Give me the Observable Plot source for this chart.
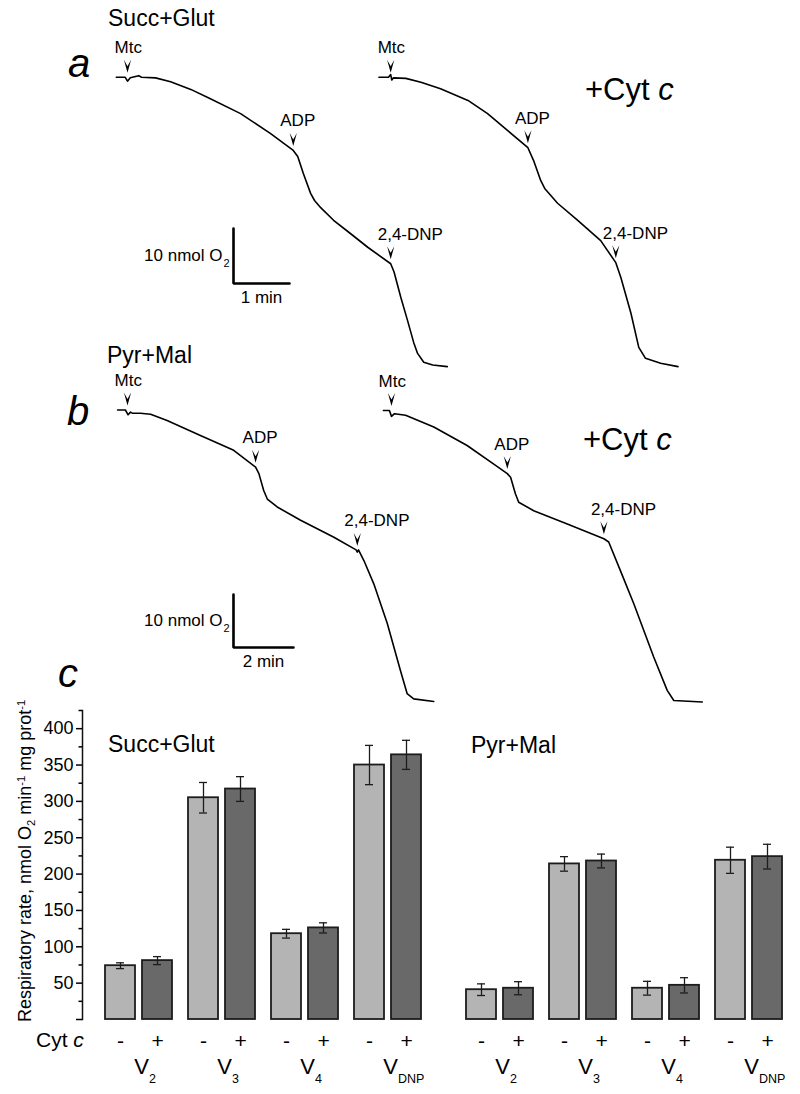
<!DOCTYPE html>
<html><head><meta charset="utf-8">
<script src="https://cdn.jsdelivr.net/npm/d3@7"></script>
<script src="https://cdn.jsdelivr.net/npm/@observablehq/plot@0.6"></script>
<style>
body{margin:0;background:#fff;overflow:hidden}
#fig{position:relative;width:800px;height:1094px;overflow:hidden;font-family:Arial,"Liberation Sans",sans-serif;color:#000;background:#fff}
.lbl{position:absolute;white-space:nowrap;line-height:1}
.layer{position:absolute}
.sub{font-size:0.62em;position:relative;top:0.32em}
.sup{font-size:0.62em;position:relative;top:-0.5em}
</style></head><body><div id="fig"></div>
<script>
// ================= DATA =================
// Oxygraph traces: [time (min, from Mtc addition), O2 (nmol above anoxia)]
const traceA_ctrl = [[-0.20,52.4],[-0.04,52.4],[0.00,51.7],[0.05,52.3],[0.20,52.7],[0.25,52.4],[0.50,52.3],[0.77,51.6],[1.13,50.2],[1.48,48.5],[2.02,45.8],[2.55,42.2],[2.96,39.1],[3.04,38.0],[3.14,34.9],[3.27,31.3],[3.34,30.0],[3.45,28.7],[3.68,26.4],[3.98,24.0],[4.29,21.5],[4.70,18.5],[4.76,17.0],[4.88,12.4],[5.00,8.2],[5.11,4.2],[5.18,2.2],[5.29,0.6],[5.45,0.1],[5.71,-0.2]];
const traceA_cyt = [[-0.21,52.4],[-0.04,52.4],[0.00,52.9],[0.02,51.9],[0.05,52.3],[0.27,52.2],[0.54,51.5],[0.89,50.3],[1.38,48.2],[1.73,45.8],[2.09,42.7],[2.45,39.6],[2.55,37.3],[2.68,33.6],[2.75,32.2],[2.98,29.5],[3.34,26.4],[3.75,22.7],[4.02,18.7],[4.11,16.0],[4.29,9.5],[4.43,3.3],[4.55,1.3],[4.82,0.4],[5.13,-0.2]];
const traceB_ctrl = [[-0.33,55.0],[-0.07,55.0],[0.02,54.1],[0.10,54.6],[0.16,54.4],[0.43,54.4],[0.77,54.2],[1.32,53.0],[2.43,50.2],[3.54,47.4],[4.27,44.2],[4.38,43.0],[4.54,39.8],[4.66,38.2],[4.99,36.7],[5.77,34.2],[6.88,31.0],[7.62,28.6],[7.66,28.2],[7.70,28.6],[7.88,26.6],[8.21,22.2],[8.66,14.7],[9.10,5.8],[9.32,1.5],[9.54,0.5],[10.21,0.0]];
const traceB_cyt = [[-0.27,54.9],[-0.07,54.9],[0.00,53.8],[0.10,54.3],[0.47,54.0],[1.41,51.8],[2.52,48.3],[3.41,44.8],[3.86,43.0],[3.97,42.3],[4.13,39.2],[4.24,37.6],[4.74,36.0],[5.86,33.5],[7.08,30.7],[7.24,30.1],[7.63,24.7],[8.08,18.4],[8.74,8.4],[9.19,2.1],[9.41,0.2],[10.36,-0.1]];

// Additions marked on the traces
const eventsA_ctrl = [{label:"Mtc",t:0,o2:52.4},{label:"ADP",t:2.96,o2:39.1},{label:"2,4-DNP",t:4.70,o2:18.5}];
const eventsA_cyt  = [{label:"Mtc",t:0,o2:52.4},{label:"ADP",t:2.45,o2:39.6},{label:"2,4-DNP",t:4.02,o2:18.7}];
const eventsB_ctrl = [{label:"Mtc",t:0,o2:55.0},{label:"ADP",t:4.27,o2:44.2},{label:"2,4-DNP",t:7.66,o2:28.5}];
const eventsB_cyt  = [{label:"Mtc",t:0,o2:54.9},{label:"ADP",t:3.86,o2:43.0},{label:"2,4-DNP",t:7.08,o2:30.7}];

// Scale bars
const scaleBarA = {minutes:1, nmol:10, timeLabel:"1 min"};
const scaleBarB = {minutes:2, nmol:10, timeLabel:"2 min"};

// Bar chart (panel c)
const phases = ["V2","V3","V4","VDNP"];
const phaseSub = ["2","3","4","DNP"];
const cytC = ["-","+"];
const substrates = ["Succ+Glut","Pyr+Mal"];
const succMinus    = [74, 305, 118, 350];
const succMinusErr = [4, 21, 6, 27];
const succPlus     = [81, 317, 126, 364];
const succPlusErr  = [5.5, 17, 7, 20];
const pyrMinus     = [41, 214, 43, 219];
const pyrMinusErr  = [8, 10, 9.5, 18];
const pyrPlus      = [43, 218, 47, 224];
const pyrPlusErr   = [9, 9.5, 10.5, 17];
const yTicks = [0,50,100,150,200,250,300,350,400];
const yMinorTicks = [25,75,125,175,225,275,325,375,425];

// ================= LAYOUT =================
const FONT = 'Arial, "Liberation Sans", sans-serif';
const fig = document.getElementById("fig");
function layer(node, left, top, width) {
  const d = document.createElement("div");
  d.className = "layer"; d.style.left = left + "px"; d.style.top = top + "px"; d.style.width = width + "px";
  d.appendChild(node); fig.appendChild(d);
}
function label(html, x, baseline, size, extra = "") {
  const d = document.createElement("div");
  d.className = "lbl";
  d.style.cssText = `left:${x}px;top:${baseline - 0.8465 * size}px;font-size:${size}px;${extra}`;
  d.innerHTML = html; fig.appendChild(d);
}

// notched arrow-head symbol pointing down
const notchArrow = {draw(ctx) {
  const w = 3.6, h = 13, n = 6.5;
  ctx.moveTo(0, h / 2); ctx.lineTo(-w, -h / 2); ctx.lineTo(0, -h / 2 + n); ctx.lineTo(w, -h / 2); ctx.closePath();
}};

const layoutA = {top:0, height:370, originPx:127, pxPerMin:56, zeroPx:365, pxPerNmol:5.5, shift:4.70, bar:{t:1.893, o2:14.91}};
const layoutB = {top:370, height:340, originPx:127, pxPerMin:30, zeroPx:331, pxPerNmol:5.3, shift:8.80, bar:{t:3.533, o2:10.19}};

function tracePanel(L, ctrl, cyt, evCtrl, evCyt, sb) {
  const rows = [
    ...ctrl.map(([t, o2]) => ({series:"-", t, o2})),
    ...cyt.map(([t, o2]) => ({series:"+", t: t + L.shift, o2}))
  ];
  const ev = [...evCtrl, ...evCyt.map(e => ({...e, t: e.t + L.shift}))];
  const bx = L.bar.t, by = L.bar.o2;
  const barPath = [{t:bx, o2:by + sb.nmol}, {t:bx, o2:by}, {t:bx + sb.minutes, o2:by}];
  const o2Lab = [{t:bx, o2:by + sb.nmol / 2, main:`${sb.nmol} nmol O`, sub:"2"}];
  const tLab = [{t:bx + sb.minutes / 2, o2:by, text:sb.timeLabel}];
  return Plot.plot({
    width:800, height:L.height, margin:0,
    x:{domain:[-L.originPx / L.pxPerMin, (800 - L.originPx) / L.pxPerMin], axis:null},
    y:{domain:[(L.zeroPx - L.height) / L.pxPerNmol, L.zeroPx / L.pxPerNmol], axis:null},
    style:{background:"transparent", fontFamily:FONT, fontSize:"17px", color:"#000"},
    marks:[
      Plot.line(rows, {x:"t", y:"o2", z:"series", stroke:"#000", strokeWidth:1.6, strokeLinejoin:"round"}),
      Plot.dot(ev, {x:"t", y:"o2", symbol:notchArrow, fill:"#000", stroke:"none", dy:-11}),
      Plot.text(ev, {x:"t", y:"o2", text:"label", textAnchor:"start", lineAnchor:"bottom", dx:-13, dy:-24, fontSize:17, fill:"#000"}),
      Plot.line(barPath, {x:"t", y:"o2", stroke:"#000", strokeWidth:2.6, strokeLinejoin:"miter"}),
      Plot.text(o2Lab, {x:"t", y:"o2", text:"main", textAnchor:"end", lineAnchor:"middle", dx:-11, fontSize:17, fill:"#000"}),
      Plot.text(o2Lab, {x:"t", y:"o2", text:"sub", textAnchor:"start", lineAnchor:"middle", dx:-10, dy:7, fontSize:11, fill:"#000"}),
      Plot.text(tLab, {x:"t", y:"o2", text:"text", textAnchor:"middle", lineAnchor:"top", dy:7, fontSize:17, fill:"#000"})
    ]
  });
}

layer(tracePanel(layoutA, traceA_ctrl, traceA_cyt, eventsA_ctrl, eventsA_cyt, scaleBarA), 0, layoutA.top, 800);
layer(tracePanel(layoutB, traceB_ctrl, traceB_cyt, eventsB_ctrl, eventsB_cyt, scaleBarB), 0, layoutB.top, 800);

// ---- bar chart data table ----
const series = {
  "Succ+Glut": {"-":[succMinus, succMinusErr], "+":[succPlus, succPlusErr]},
  "Pyr+Mal":   {"-":[pyrMinus, pyrMinusErr],   "+":[pyrPlus, pyrPlusErr]}
};
const bars = [];
for (const s of substrates) for (const c of cytC) phases.forEach((p, i) =>
  bars.push({substrate:s, cyt:c, phase:p, value:series[s][c][0][i], err:series[s][c][1][i]}));
const phaseRows = phases.map((p, i) => ({phase:p, sub:phaseSub[i]}));

const BAR = {top:700, height:394, marginTop:10, marginBottom:75};
function barPanel(sub, opts) {
  const d = bars.filter(b => b.substrate === sub);
  const minus = d.filter(b => b.cyt === "-"), plus = d.filter(b => b.cyt === "+");
  const half = 18.5, stroke = "#1c1c1c";
  const marks = [
    Plot.barY(minus, {x:"phase", y:"value", fill:"#b4b4b4", stroke, strokeWidth:1.8, insetLeft:0, insetRight:37}),
    Plot.barY(plus,  {x:"phase", y:"value", fill:"#696969", stroke, strokeWidth:1.8, insetLeft:37, insetRight:0}),
    Plot.ruleX(minus, {x:"phase", y1:b => b.value - b.err, y2:b => b.value + b.err, dx:-half, stroke, strokeWidth:1.3}),
    Plot.ruleX(plus,  {x:"phase", y1:b => b.value - b.err, y2:b => b.value + b.err, dx:half, stroke, strokeWidth:1.3}),
    Plot.tickY(minus, {x:"phase", y:b => b.value + b.err, insetLeft:11, insetRight:48, stroke, strokeWidth:1.3}),
    Plot.tickY(minus, {x:"phase", y:b => b.value - b.err, insetLeft:11, insetRight:48, stroke, strokeWidth:1.3}),
    Plot.tickY(plus,  {x:"phase", y:b => b.value + b.err, insetLeft:48, insetRight:11, stroke, strokeWidth:1.3}),
    Plot.tickY(plus,  {x:"phase", y:b => b.value - b.err, insetLeft:48, insetRight:11, stroke, strokeWidth:1.3}),
    Plot.text(minus, {x:"phase", text:"cyt", frameAnchor:"bottom", lineAnchor:"bottom", dx:-half, dy:28, fontSize:21, fill:"#000"}),
    Plot.text(plus,  {x:"phase", text:"cyt", frameAnchor:"bottom", lineAnchor:"bottom", dx:half, dy:28, fontSize:21, fill:"#000"}),
    Plot.text(phaseRows, {x:"phase", text:() => "V", frameAnchor:"bottom", lineAnchor:"bottom", dx:2.5, dy:54, fontSize:22, fill:"#000"}),
    Plot.text(phaseRows, {x:"phase", text:"sub", frameAnchor:"bottom", lineAnchor:"bottom", textAnchor:"start", dx:10, dy:63, fontSize:12.5, fill:"#000"})
  ];
  if (opts.axis) {
    marks.unshift(
      Plot.frame({anchor:"left", stroke:"#111", strokeWidth:1.5}),
      Plot.axisY(yTicks, {tickSize:6, tickPadding:3, strokeWidth:1.5, label:null, tickFormat:v => v === 0 ? "" : String(v)}),
      Plot.axisY(yMinorTicks, {tickSize:3.5, strokeWidth:1.5, label:null, tickFormat:() => ""})
    );
  }
  return Plot.plot({
    width:opts.width, height:BAR.height,
    marginLeft:opts.marginLeft, marginRight:0, marginTop:BAR.marginTop, marginBottom:BAR.marginBottom,
    x:{domain:phases, paddingInner:0.196, paddingOuter:opts.paddingOuter, align:opts.align, axis:null},
    y:{domain:[0, 425], axis:opts.axis ? undefined : null, label:null},
    style:{background:"transparent", fontFamily:FONT, fontSize:"18px", color:"#000"},
    marks
  });
}
layer(barPanel("Succ+Glut", {width:443, marginLeft:82, paddingOuter:0.264, align:0.5, axis:true}), 0, BAR.top, 443);
layer(barPanel("Pyr+Mal", {width:357, marginLeft:0, paddingOuter:0.24, align:0.55, axis:false}), 443, BAR.top, 357);

// ---- text annotations ----
label("a", 68, 77, 40, "font-style:italic");
label("b", 67, 425, 40, "font-style:italic");
label("c", 58, 687, 40, "font-style:italic");
label("Succ+Glut", 108, 26, 23);
label("Pyr+Mal", 107, 363, 23);
label("+Cyt <i>c</i>", 585, 100, 31);
label("+Cyt <i>c</i>", 583, 450, 31);
label("Succ+Glut", 108, 752, 23);
label("Pyr+Mal", 471, 753, 23);
label("Cyt <i>c</i>", 36, 1047, 21);
// rotated y-axis title
const yl = document.createElement("div");
yl.className = "lbl";
yl.style.cssText = "left:15.5px;top:1022px;font-size:18px;transform-origin:0 0;transform:rotate(-90deg)";
yl.innerHTML = 'Respiratory rate, nmol O<span class="sub">2</span> min<span class="sup">-1</span> mg prot<span class="sup">-1</span>';
fig.appendChild(yl);
</script></body></html>
